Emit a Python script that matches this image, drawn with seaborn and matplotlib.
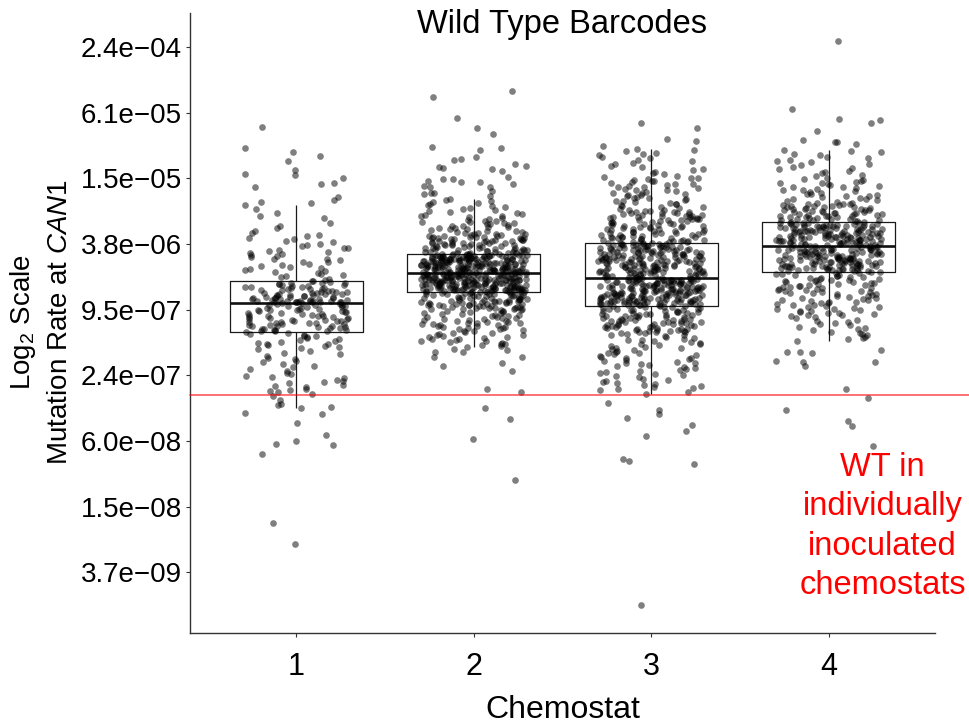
import numpy as np
import pandas as pd
import matplotlib
matplotlib.use("Agg")
import matplotlib.pyplot as plt
import seaborn as sns
from matplotlib.ticker import FuncFormatter

chemostats = ["1", "2", "3", "4"]

# -log2(mutation rate at CAN1) for each wild-type barcode
c1_neglog2 = [
    14.42, 15.07, 15.18, 15.32, 15.48, 15.75, 15.87, 15.91, 15.99, 16.15,
    16.17, 16.25, 16.57, 16.66, 16.71, 16.74, 16.81, 16.93, 17.04, 17.16,
    17.22, 17.35, 17.44, 17.52, 17.61, 17.66, 17.72, 17.75, 17.81, 17.85,
    17.9, 17.93, 17.99, 18.02, 18.06, 18.11, 18.13, 18.18, 18.21, 18.24,
    18.27, 18.3, 18.33, 18.37, 18.4, 18.44, 18.47, 18.5, 18.54, 18.56,
    18.6, 18.63, 18.67, 18.7, 18.72, 18.76, 18.79, 18.82, 18.85, 18.88,
    18.91, 18.95, 18.98, 19.01, 19.05, 19.09,
    19.13, 19.16, 19.14, 19.19, 19.21, 19.18, 19.24, 19.23, 19.27, 19.26,
    19.29, 19.31, 19.3, 19.34, 19.33, 19.36, 19.38, 19.37, 19.41, 19.4,
    19.43, 19.42, 19.46, 19.45, 19.48, 19.5, 19.49, 19.52, 19.51, 19.54,
    19.55, 19.57, 19.56, 19.59, 19.58, 19.61, 19.6, 19.63, 19.62, 19.65,
    19.64, 19.67, 19.66, 19.68, 19.7, 19.69, 19.71, 19.72, 19.73, 19.72,
    19.74, 19.75, 19.74, 19.76, 19.75, 19.77, 19.76, 19.77, 19.78, 19.77,
    19.2, 19.32, 19.47, 19.53, 19.64, 19.73,
    19.79, 19.8, 19.82, 19.83, 19.85, 19.86, 19.88, 19.89, 19.91, 19.92,
    19.94, 19.95, 19.97, 19.98, 20.0, 20.01, 20.03, 20.04, 20.06, 20.07,
    20.09, 20.1, 20.12, 20.13, 20.15, 20.16, 20.18, 20.19, 20.21, 20.22,
    20.24, 20.25, 20.27, 20.28, 20.3, 20.31, 20.33, 20.34, 20.36, 20.37,
    20.39, 20.4, 20.42, 20.43, 20.45, 20.46, 20.48, 20.49, 20.51, 20.52,
    20.54, 20.55, 20.57, 20.58, 20.6, 20.61, 20.63, 20.64, 20.65, 20.66,
    19.87, 20.02, 20.2, 20.35, 20.5, 20.62,
    20.69, 20.71, 20.74, 20.76, 20.79, 20.81, 20.84, 20.86, 20.9, 20.93,
    20.95, 20.98, 21.01, 21.03, 21.06, 21.09, 21.12, 21.15, 21.18, 21.21,
    21.26, 21.31, 21.36, 21.4, 21.46, 21.51, 21.55, 21.6, 21.65, 21.7,
    21.75, 21.81, 21.87, 21.92, 21.97, 22.01, 22.05, 22.09, 22.13, 22.17,
    22.2, 22.24, 22.28, 22.32, 22.36, 22.41, 22.45, 22.49, 22.51, 22.56,
    22.63, 22.74, 22.87, 22.9, 22.97, 22.98, 23.14, 23.17, 23.45, 23.83,
    24.0, 24.09, 24.12, 24.41, 26.51, 27.13,
]

c2_neglog2 = [
    13.35, 13.51, 14.17, 14.45, 14.65, 15.04, 15.08, 15.14, 15.35, 15.4,
    15.45, 15.55, 15.63, 15.66, 15.67, 15.71, 15.78, 15.97, 16.01, 16.02,
    16.08, 16.1, 16.11, 16.18, 16.23, 16.25, 16.25, 16.39, 16.44, 16.45,
    16.48, 16.54,
    16.63, 16.66, 16.7, 16.72, 16.75, 16.79, 16.82, 16.85, 16.88, 16.9,
    16.93, 16.96, 16.99, 17.02, 17.05, 17.08, 17.1, 17.13, 17.16, 17.19,
    17.22, 17.25,
    17.27, 17.29, 17.3, 17.32, 17.34, 17.35, 17.37, 17.39, 17.4, 17.42,
    17.44, 17.45, 17.47, 17.49, 17.5, 17.52, 17.54, 17.55, 17.57, 17.59,
    17.6, 17.62, 17.63, 17.65, 17.66, 17.68, 17.69, 17.7, 17.72, 17.73,
    17.74, 17.75, 17.76, 17.77, 17.78,
    17.79, 17.8, 17.81, 17.82, 17.83, 17.84, 17.85, 17.86, 17.87, 17.88,
    17.89, 17.9, 17.91, 17.92, 17.93, 17.94, 17.95, 17.96, 17.97, 17.98,
    17.99, 18.0, 18.01, 18.02, 18.03, 18.04, 18.05, 18.06, 18.07, 18.08,
    18.09, 18.1, 18.11, 18.12, 18.13, 18.14, 18.15, 18.16, 18.17, 18.18,
    18.19, 18.2, 18.21, 18.22, 18.23, 18.24, 18.25, 18.26, 18.27, 18.28,
    18.29, 18.3, 17.82, 17.9, 17.97, 18.04, 18.11, 18.17, 18.23, 18.28,
    18.3,
    18.31, 18.32, 18.33, 18.34, 18.35, 18.36, 18.37, 18.38, 18.39, 18.4,
    18.41, 18.42, 18.43, 18.44, 18.45, 18.46, 18.47, 18.48, 18.49, 18.5,
    18.51, 18.52, 18.53, 18.54, 18.55, 18.56, 18.57, 18.58, 18.59, 18.6,
    18.61, 18.62, 18.63, 18.64, 18.65, 18.66, 18.67, 18.68, 18.69, 18.7,
    18.71, 18.72, 18.73, 18.74, 18.75, 18.76, 18.77, 18.78, 18.79, 18.8,
    18.81, 18.82, 18.83, 18.84, 18.85, 18.86, 18.87,
    18.87, 18.86, 18.85, 18.84, 18.83, 18.82, 18.81, 18.8, 18.79, 18.78,
    18.77, 18.76, 18.75, 18.74, 18.73, 18.72, 18.71, 18.7, 18.69, 18.68,
    18.67, 18.66, 18.65, 18.64, 18.63, 18.62, 18.61, 18.6, 18.59, 18.58,
    18.57, 18.56, 18.55, 18.54, 18.53, 18.52, 18.51, 18.5, 18.49, 18.48,
    18.47, 18.46, 18.45, 18.44, 18.43, 18.42, 18.41, 18.4, 18.39, 18.38,
    18.37, 18.36, 18.35, 18.34, 18.33, 18.32, 18.31,
    18.32, 18.33, 18.35, 18.36, 18.38, 18.4, 18.41, 18.43, 18.45, 18.46,
    18.48, 18.5, 18.51, 18.53, 18.55, 18.56, 18.58, 18.6, 18.61, 18.63,
    18.65, 18.66, 18.68, 18.7, 18.71, 18.73, 18.75, 18.76, 18.78, 18.8,
    18.81, 18.83, 18.85, 18.86, 18.87, 18.87,
    18.89, 18.9, 18.91, 18.92, 18.93, 18.94, 18.95, 18.96, 18.97, 18.98,
    18.99, 19.0, 19.01, 19.02, 19.03, 19.04, 19.05, 19.06, 19.07, 19.08,
    19.09, 19.1, 19.11, 19.12, 19.13, 19.14, 19.15, 19.16, 19.17, 19.18,
    19.19, 19.2, 19.21, 19.22, 19.23, 19.24, 19.25, 19.26, 19.27, 19.28,
    19.29, 19.3, 19.31, 19.32, 19.33, 19.34, 19.35, 19.36, 19.37, 19.38,
    19.39, 19.4, 19.41, 19.42, 19.43, 19.44, 19.45,
    19.45, 19.44, 19.43, 19.42, 19.41, 19.4, 19.39, 19.38, 19.37, 19.36,
    19.35, 19.34, 19.33, 19.32, 19.31, 19.3, 19.29, 19.28, 19.27, 19.26,
    19.25, 19.24, 19.23, 19.22, 19.21, 19.2, 19.19, 19.18, 19.17, 19.16,
    19.15, 19.14, 19.13, 19.12, 19.11, 19.1, 19.09, 19.08, 19.07, 19.06,
    19.05, 19.04, 19.03, 19.02, 19.01, 19.0, 18.99, 18.98, 18.97, 18.96,
    18.95, 18.94, 18.93, 18.92, 18.91, 18.9, 18.89,
    18.9, 18.91, 18.93, 18.94, 18.96, 18.98, 18.99, 19.01, 19.03, 19.04,
    19.06, 19.08, 19.09, 19.11, 19.13, 19.14, 19.16, 19.18, 19.19, 19.21,
    19.23, 19.24, 19.26, 19.28, 19.29, 19.31, 19.33, 19.34, 19.36, 19.38,
    19.39, 19.41, 19.43, 19.44, 19.45, 19.45,
    19.46, 19.47, 19.48, 19.49, 19.5, 19.51, 19.52, 19.53, 19.54, 19.55,
    19.56, 19.57, 19.58, 19.59, 19.6, 19.61, 19.62, 19.63, 19.64, 19.65,
    19.66, 19.67, 19.68, 19.69, 19.7, 19.71, 19.72, 19.73, 19.74, 19.75,
    19.76, 19.77, 19.78, 19.79, 19.8, 19.81, 19.82, 19.83, 19.84, 19.85,
    19.86, 19.87, 19.88, 19.89, 19.9, 19.91, 19.92, 19.93, 19.94, 19.95,
    19.96, 19.97, 19.98, 19.99, 20.0,
    19.48, 19.51, 19.55, 19.58, 19.62, 19.65, 19.69, 19.72, 19.76, 19.8,
    19.83, 19.87, 19.9, 19.94, 19.98,
    20.02, 20.03, 20.05, 20.06, 20.08, 20.09, 20.11, 20.12, 20.14, 20.15,
    20.17, 20.18, 20.2, 20.21, 20.23, 20.24, 20.26, 20.27, 20.29, 20.3,
    20.32, 20.33, 20.35, 20.36, 20.38, 20.39, 20.41, 20.42, 20.44, 20.45,
    20.47, 20.48, 20.5, 20.51, 20.53, 20.54, 20.56, 20.57, 20.59, 20.6,
    20.62, 20.64, 20.66, 20.68, 20.7, 20.72, 20.74, 20.76, 20.78, 20.8,
    20.82, 20.84, 20.86, 20.88, 20.9, 20.92, 20.94, 20.96, 20.98, 21.0,
    21.03, 21.06, 21.09, 21.11, 21.13,
    21.21, 21.23, 21.28, 21.3, 21.44, 21.45, 21.61, 21.73, 21.87, 22.43,
    22.52, 23.0, 23.34, 23.95, 25.19,
]

c3_neglog2 = [
    14.32, 14.47, 14.81, 14.85, 15.01,
    15.1, 15.13, 15.17, 15.22, 15.26, 15.3, 15.35, 15.39, 15.44, 15.48,
    15.53, 15.57, 15.62, 15.66, 15.7, 15.75, 15.79, 15.84, 15.88, 15.93,
    15.96, 15.98, 16.0, 16.03, 16.05, 16.07, 16.09, 16.12, 16.14, 16.16,
    16.18, 16.21, 16.23, 16.25, 16.27, 16.3, 16.32, 16.34, 16.36, 16.39,
    16.41, 16.43, 16.45, 16.48, 16.5, 16.52, 16.54, 16.57, 16.59, 16.61,
    16.63, 16.66, 16.68, 16.7, 16.72, 16.75, 16.77, 16.79, 16.81, 16.84,
    16.86, 16.88, 16.9, 16.92, 16.95,
    16.97, 16.98, 17.0, 17.01, 17.02, 17.04, 17.05, 17.06, 17.08, 17.09,
    17.1, 17.11, 17.13, 17.14, 17.15, 17.17, 17.18, 17.19, 17.2, 17.22,
    17.23, 17.24, 17.26, 17.27, 17.28, 17.29, 17.31, 17.32, 17.33, 17.35,
    17.36, 17.37, 17.38, 17.4, 17.41, 17.42, 17.44, 17.45, 17.46, 17.47,
    17.49, 17.5, 17.51, 17.53, 17.54, 17.55, 17.56, 17.58, 17.59, 17.6,
    17.62, 17.63, 17.64, 17.65, 17.67, 17.68, 17.69, 17.71, 17.72, 17.73,
    17.74, 17.76, 17.77, 17.78, 17.8, 17.81, 17.82, 17.83, 17.85, 17.86,
    17.87, 17.89, 17.9, 17.91, 17.92, 17.94, 17.94, 17.95, 17.03, 17.25,
    17.48, 17.66, 17.79, 17.88, 17.93,
    17.96, 17.97, 17.98, 17.99, 18.0, 18.01, 18.02, 18.03, 18.04, 18.05,
    18.06, 18.07, 18.08, 18.09, 18.1, 18.11, 18.12, 18.13, 18.14, 18.15,
    18.16, 18.17, 18.18, 18.19, 18.2, 18.21, 18.22, 18.23, 18.24, 18.25,
    18.26, 18.27, 18.28, 18.29, 18.3, 18.31, 18.32, 18.33, 18.34, 18.35,
    18.36, 18.37, 18.38, 18.39, 18.4, 18.41, 18.42, 18.43, 18.44, 18.45,
    18.46, 18.47, 18.48, 18.49, 18.5, 18.51, 18.52, 18.53, 18.54, 18.55,
    18.56, 18.57, 18.58, 18.59, 18.6, 18.61, 18.62, 18.63, 18.64, 18.65,
    18.66, 18.67, 18.68, 18.69, 18.7, 18.71, 18.72, 18.73, 18.74, 18.75,
    18.76, 18.77, 18.78, 18.79, 18.8, 18.81, 18.82, 18.83, 18.84, 18.85,
    18.86, 18.87, 18.88, 18.89, 18.9, 18.91, 18.92, 18.93, 18.94, 18.95,
    18.96, 18.97, 18.98, 18.99, 19.0, 19.01,
    17.97, 17.99, 18.01, 18.03, 18.05, 18.07, 18.09, 18.11, 18.13, 18.15,
    18.17, 18.19, 18.21, 18.23, 18.25, 18.27, 18.29, 18.31, 18.33, 18.35,
    18.37, 18.39, 18.41, 18.43, 18.45, 18.47, 18.49, 18.51, 18.53, 18.55,
    18.57, 18.59, 18.61, 18.63, 18.65, 18.67, 18.69, 18.71, 18.73, 18.75,
    18.77, 18.79, 18.81, 18.83, 18.85, 18.87, 18.89, 18.92, 18.95,
    19.03, 19.04, 19.05, 19.06, 19.07, 19.08, 19.09, 19.1, 19.11, 19.12,
    19.13, 19.14, 19.15, 19.16, 19.17, 19.18, 19.19, 19.2, 19.21, 19.22,
    19.23, 19.24, 19.25, 19.26, 19.27, 19.28, 19.29, 19.3, 19.31, 19.32,
    19.33, 19.34, 19.35, 19.36, 19.37, 19.38, 19.39, 19.4, 19.41, 19.42,
    19.43, 19.44, 19.45, 19.46, 19.47, 19.48, 19.49, 19.5, 19.51, 19.52,
    19.53, 19.54, 19.55, 19.56, 19.57, 19.58, 19.59, 19.6, 19.61, 19.62,
    19.63, 19.64, 19.65, 19.66, 19.67, 19.68, 19.69, 19.7, 19.71, 19.72,
    19.73, 19.74, 19.75, 19.76, 19.77, 19.78, 19.79, 19.8, 19.81, 19.82,
    19.83, 19.84, 19.85, 19.86,
    19.03, 19.04, 19.06, 19.07, 19.08, 19.09, 19.1, 19.12, 19.13, 19.14,
    19.15, 19.16, 19.18, 19.19, 19.2, 19.21, 19.22, 19.24, 19.25, 19.26,
    19.27, 19.28, 19.3, 19.31, 19.32, 19.33, 19.34, 19.36, 19.37, 19.38,
    19.39, 19.4, 19.42, 19.43, 19.44, 19.45, 19.46, 19.48, 19.49, 19.5,
    19.51, 19.52, 19.54, 19.55, 19.56, 19.57, 19.58, 19.6, 19.61, 19.62,
    19.63, 19.64, 19.66, 19.67, 19.68, 19.69, 19.7, 19.72, 19.73, 19.74,
    19.75, 19.76, 19.78, 19.79, 19.8, 19.81, 19.82, 19.83, 19.84, 19.85,
    19.87,
    19.88, 19.89, 19.9, 19.91, 19.92, 19.93, 19.94, 19.96, 19.97, 19.98,
    19.99, 20.0, 20.01, 20.02, 20.03, 20.04, 20.05, 20.06, 20.07, 20.08,
    20.09, 20.11, 20.12, 20.13, 20.14, 20.15, 20.16, 20.17, 20.18, 20.19,
    20.2, 20.21, 20.22, 20.23, 20.24, 20.26, 20.27, 20.28, 20.29, 20.3,
    20.31, 20.32, 20.33, 20.34, 20.35, 20.36, 20.37, 20.38, 20.39, 20.41,
    20.42, 20.43, 20.44, 20.45, 20.46, 20.47, 20.48, 20.49, 20.5, 20.51,
    20.52, 20.53, 20.54, 20.56, 20.57, 20.58, 20.59, 20.6, 20.61, 20.62,
    20.63, 20.64, 20.65, 20.66, 20.67, 20.68, 20.69, 20.7, 20.71,
    20.73, 20.76, 20.78, 20.81, 20.83, 20.86, 20.88, 20.91, 20.93, 20.96,
    20.98, 21.01, 21.03, 21.06, 21.08, 21.11, 21.13, 21.16, 21.18, 21.21,
    21.23, 21.26, 21.28, 21.31, 21.33, 21.36, 21.38, 21.41, 21.43, 21.46,
    21.48, 21.51, 21.53, 21.56, 21.58, 21.61, 21.63, 21.66, 21.68, 21.71,
    21.74, 21.77, 21.8, 21.84, 21.87, 21.9, 21.93, 21.97, 22.0, 22.03,
    22.06, 22.1, 22.13, 22.16, 22.19, 22.23, 22.26, 22.29, 22.32, 22.36,
    22.39, 22.42, 22.46, 22.5, 22.56,
    22.85, 23.06, 23.18, 23.31, 23.5, 23.71, 23.86, 24.55, 24.6, 24.71,
    29.0,
]

c4_neglog2 = [
    11.82, 13.88, 14.2, 14.21, 14.31, 14.56, 14.83, 14.9, 14.9, 14.94,
    15.13, 15.17, 15.21, 15.26, 15.3, 15.34, 15.38, 15.43, 15.47, 15.51,
    15.55, 15.6, 15.64, 15.68, 15.72, 15.77, 15.81, 15.85, 15.89, 15.94,
    15.98, 16.02,
    16.06, 16.08, 16.11, 16.13, 16.15, 16.18, 16.2, 16.22, 16.25, 16.27,
    16.29, 16.32, 16.34, 16.36, 16.39, 16.41, 16.43, 16.46, 16.48, 16.5,
    16.53, 16.55, 16.57, 16.6, 16.62, 16.64, 16.67, 16.69, 16.71, 16.74,
    16.76, 16.77, 16.78, 16.79, 16.81, 16.82, 16.83, 16.84, 16.85, 16.86,
    16.87, 16.88, 16.89, 16.91, 16.92, 16.93, 16.94, 16.95, 16.96, 16.97,
    16.98, 16.99, 17.01, 17.02, 17.03, 17.04, 17.05, 17.06, 17.07, 17.08,
    17.09, 17.11, 17.12, 17.13, 17.14, 17.15, 17.16, 17.17, 17.18, 17.19,
    17.21, 17.22, 17.23, 17.24, 17.25, 17.26, 17.27, 17.28, 17.29, 17.31,
    17.32,
    17.34, 17.35, 17.36, 17.37, 17.38, 17.39, 17.4, 17.41, 17.42, 17.43,
    17.44, 17.45, 17.46, 17.47, 17.48, 17.49, 17.5, 17.51, 17.52, 17.53,
    17.54, 17.55, 17.56, 17.57, 17.58, 17.59, 17.6, 17.61, 17.62, 17.63,
    17.64, 17.65, 17.66, 17.67, 17.68, 17.69, 17.7, 17.71, 17.72, 17.73,
    17.74, 17.75, 17.76, 17.77, 17.78, 17.79, 17.8, 17.81, 17.82, 17.83,
    17.84, 17.85, 17.86, 17.87, 17.88, 17.89, 17.9, 17.91, 17.92, 17.93,
    17.94, 17.95, 17.96, 17.97, 17.98, 17.99, 18.0, 18.01, 18.02, 18.03,
    18.04, 18.05, 18.06,
    17.35, 17.37, 17.39, 17.41, 17.43, 17.45, 17.47, 17.49, 17.51, 17.53,
    17.55, 17.57, 17.59, 17.61, 17.63, 17.65, 17.67, 17.69, 17.71, 17.73,
    17.75, 17.77, 17.79, 17.81, 17.83, 17.85, 17.87, 17.89, 17.91, 17.93,
    17.95, 17.97, 17.99, 18.01, 18.03, 18.05, 17.44, 17.64, 17.84, 18.04,
    18.08, 18.09, 18.1, 18.11, 18.12, 18.13, 18.14, 18.15, 18.16, 18.17,
    18.18, 18.19, 18.2, 18.21, 18.22, 18.23, 18.24, 18.25, 18.26, 18.27,
    18.28, 18.29, 18.3, 18.31, 18.32, 18.33, 18.34, 18.35, 18.36, 18.37,
    18.38, 18.39, 18.4, 18.41, 18.42, 18.43, 18.44, 18.45, 18.46, 18.47,
    18.48, 18.49, 18.5, 18.51, 18.52, 18.53, 18.54, 18.55, 18.56, 18.57,
    18.58, 18.59, 18.6, 18.61, 18.62, 18.63, 18.64, 18.65, 18.66, 18.67,
    18.68, 18.69, 18.7, 18.71, 18.72, 18.73, 18.74, 18.75, 18.76, 18.77,
    18.78, 18.79, 18.8, 18.81, 18.82, 18.83, 18.84,
    18.09, 18.11, 18.13, 18.15, 18.17, 18.19, 18.21, 18.23, 18.25, 18.27,
    18.29, 18.31, 18.33, 18.35, 18.37, 18.39, 18.41, 18.43, 18.45, 18.47,
    18.49, 18.51, 18.53, 18.55, 18.57, 18.59, 18.61, 18.63, 18.65, 18.67,
    18.69, 18.71, 18.73, 18.75, 18.77, 18.79,
    18.86, 18.87, 18.89, 18.9, 18.92, 18.93, 18.95, 18.96, 18.98, 18.99,
    19.01, 19.02, 19.04, 19.05, 19.07, 19.08, 19.1, 19.11, 19.13, 19.14,
    19.16, 19.17, 19.19, 19.2, 19.22, 19.23, 19.25, 19.26, 19.28, 19.29,
    19.31, 19.32, 19.34, 19.35, 19.37, 19.38, 19.4, 19.41, 19.43, 19.44,
    19.46, 19.47, 19.48, 19.49,
    19.51, 19.53, 19.55, 19.57, 19.59, 19.61, 19.63, 19.65, 19.67, 19.69,
    19.71, 19.73, 19.75, 19.77, 19.79, 19.81, 19.83, 19.85, 19.87, 19.89,
    19.91, 19.93, 19.95, 19.97, 19.99, 20.01, 20.03, 20.05, 20.07, 20.09,
    20.11, 20.13, 20.15, 20.17, 20.19,
    20.22, 20.26, 20.3, 20.33, 20.37, 20.41, 20.45, 20.48, 20.52, 20.56,
    20.6, 20.63, 20.67, 20.71, 20.75, 20.78, 20.82, 20.86, 20.9, 20.94,
    21.22, 21.28, 21.28, 21.32, 21.55, 21.58, 21.6, 21.72, 22.41, 22.68,
    23.07, 23.39, 23.54, 24.14,
]

wt_individual_rate = 1.59e-7          # red reference line
ytick_log2 = [-28, -26, -24, -22, -20, -18, -16, -14, -12]

sns.set_theme(style="ticks")
plt.rcParams["font.family"] = ["Liberation Sans", "DejaVu Sans"]
plt.rcParams["mathtext.fontset"] = "custom"
plt.rcParams["mathtext.rm"] = "Liberation Sans"
plt.rcParams["mathtext.it"] = "Liberation Sans:italic"

groups = [c1_neglog2, c2_neglog2, c3_neglog2, c4_neglog2]
df = pd.DataFrame({
    "Chemostat": np.repeat(chemostats, [len(g) for g in groups]),
    "log2_rate": -np.concatenate([np.asarray(g, dtype=float) for g in groups]),
})

W, H = 970, 727
fig = plt.figure(figsize=(W / 100, H / 100), dpi=100)
L, R, T, B = 190, 935, 13, 633
ax = fig.add_axes([L / W, 1 - B / H, (R - L) / W, (B - T) / H])

sns.boxplot(data=df, x="Chemostat", y="log2_rate", order=chemostats, width=0.75,
            whis=1.5, showfliers=False, showcaps=False, fill=False,
            color="#1a1a1a", linewidth=0.9,
            medianprops={"linewidth": 1.9, "color": "#111111"}, ax=ax)
np.random.seed(11)
sns.stripplot(data=df, x="Chemostat", y="log2_rate", order=chemostats, jitter=0.3,
              size=4.8, color="black", alpha=0.5, linewidth=0, ax=ax, zorder=3)
ax.axhline(np.log2(wt_individual_rate), xmin=0, xmax=(W - L) / (R - L),
           color="red", alpha=0.6, lw=1.3, zorder=4, clip_on=False)

ax.set_xlim(-0.6, 3.6)
ax.set_ylim(-29.85, -10.96)
ax.set_yticks(ytick_log2)
ax.yaxis.set_major_formatter(
    FuncFormatter(lambda v, p: f"{2.0 ** v:.1e}".replace("-", "\u2212")))
ax.tick_params(axis="y", labelsize=20, length=3, width=0.8, color="#333333",
               pad=3, labelcolor="black", left=True)
ax.tick_params(axis="x", labelsize=22, length=3, width=0.8, color="#333333",
               pad=11, labelcolor="black", bottom=True)
for s in ["top", "right"]:
    ax.spines[s].set_visible(False)
for s in ["left", "bottom"]:
    ax.spines[s].set_color("#333333")
    ax.spines[s].set_linewidth(1.0)

ax.set_xlabel("Chemostat", fontsize=23, color="black")
ax.xaxis.set_label_coords(0.5, -0.100)
ax.set_ylabel("")

fig.text(23.5 / W, 1 - 322 / H, "Log$_2$ Scale", rotation=90, ha="center",
         va="center", fontsize=20, color="black")
fig.text(60.3 / W, 1 - 322 / H, "Mutation Rate at $\\mathit{CAN1}$", rotation=90,
         ha="center", va="center", fontsize=20, color="black")

ax.text(0.5, 0.9677, "Wild Type Barcodes", transform=ax.transAxes, ha="center",
        va="baseline", fontsize=23.5, color="black")
ax.text(0.9295, 0.2924, "WT in\nindividually\ninoculated\nchemostats",
        transform=ax.transAxes, ha="center", va="top", fontsize=23.5, color="red",
        linespacing=1.35, multialignment="center")

fig.savefig("out.png", dpi=100)
